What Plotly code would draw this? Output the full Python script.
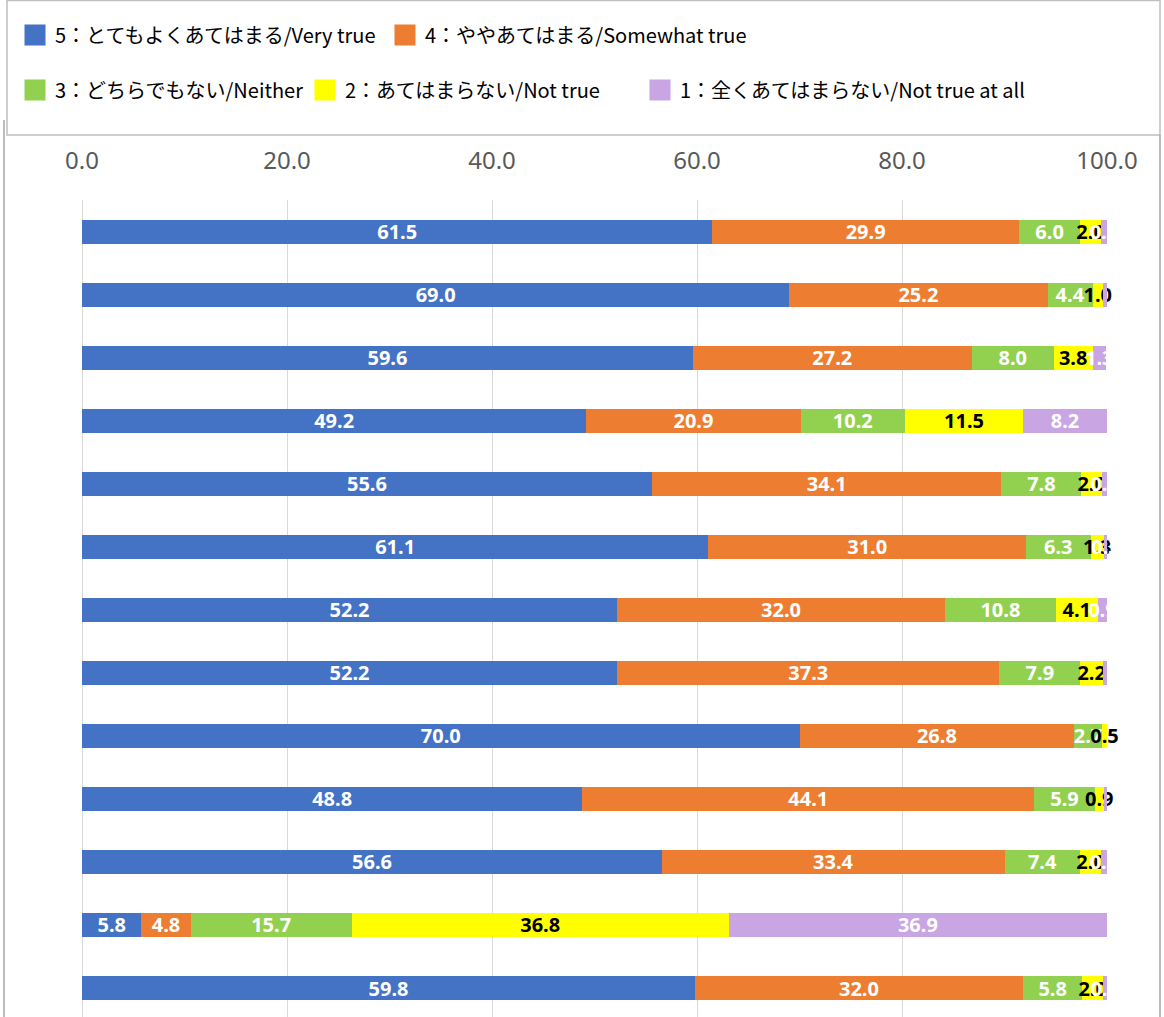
import plotly.graph_objects as go

rows = list(range(13))
very_true = [61.5, 69.0, 59.6, 49.2, 55.6, 61.1, 52.2, 52.2, 70.0, 48.8, 56.6, 5.8, 59.8]
somewhat_true = [29.9, 25.2, 27.2, 20.9, 34.1, 31.0, 32.0, 37.3, 26.8, 44.1, 33.4, 4.8, 32.0]
neither = [6.0, 4.4, 8.0, 10.2, 7.8, 6.3, 10.8, 7.9, 2.7, 5.9, 7.4, 15.7, 5.8]
not_true = [2.0, 1.0, 3.8, 11.5, 2.0, 1.3, 4.1, 2.2, 0.5, 0.9, 2.0, 36.8, 2.0]
not_true_at_all = [0.6, 0.4, 1.3, 8.2, 0.5, 0.3, 0.9, 0.4, 0.0, 0.3, 0.6, 36.9, 0.4]

names = ["5：とてもよくあてはまる/Very true", "4：ややあてはまる/Somewhat true",
         "3：どちらでもない/Neither", "2：あてはまらない/Not true",
         "1：全くあてはまらない/Not true at all"]
series = [very_true, somewhat_true, neither, not_true, not_true_at_all]
colors = ["#4472C4", "#ED7D31", "#92D050", "#FFFF00", "#C9A5E3"]
text_colors = ["white", "white", "white", "black", "white"]
tick_vals = [0, 20, 40, 60, 80, 100]
tick_text = ["0.0", "20.0", "40.0", "60.0", "80.0", "100.0"]

W, H = 1164, 1017
L, R, T, B = 82, 1107, 200, 1017

def px_x(p):
    return (p - L) / (R - L)

def px_y(p):
    return (B - p) / (B - T)

fig = go.Figure()
legend_ids = ["legend", "legend2", "legend3", "legend4", "legend5"]
for i, (nm, vals) in enumerate(zip(names, series)):
    fig.add_trace(go.Bar(
        y=rows, x=vals, orientation="h", name=nm,
        marker=dict(color=colors[i], line=dict(width=0)),
        width=0.38,
        text=[f"{v:.1f}" if v > 0 else "" for v in vals],
        textposition="inside", insidetextanchor="middle",
        textangle=0,
        textfont=dict(family="Noto Sans", size=20, color=text_colors[i], weight="bold"),
        cliponaxis=False,
        showlegend=False,
        hoverinfo="x+name",
    ))
# legend entries (square swatches)
for i, nm in enumerate(names):
    fig.add_trace(go.Scatter(
        x=[None], y=[None], mode="markers", name=nm,
        marker=dict(symbol="square", size=22, color=colors[i],
                    line=dict(width=5, color=colors[i])),
        legend=legend_ids[i], showlegend=True, hoverinfo="skip",
    ))

FONT = "Noto Sans CJK JP"
leg_pos = [(15, 35), (385, 35), (15, 90), (305, 90), (640, 90)]
layout_legends = {}
for lid, (lx, ly) in zip(legend_ids, leg_pos):
    layout_legends[lid] = dict(
        x=px_x(lx), y=px_y(ly), xanchor="left", yanchor="middle",
        orientation="h", bgcolor="rgba(0,0,0,0)",
        font=dict(family=FONT, size=20, color="#000000"),
        itemsizing="trace",
    )

fig.update_layout(
    width=W, height=H,
    margin=dict(l=L, r=W - R, t=T, b=H - B, pad=0),
    barmode="stack",
    plot_bgcolor="white", paper_bgcolor="white",
    showlegend=True,
    uniformtext=dict(minsize=20, mode="show"),
    font=dict(family=FONT),
    **layout_legends,
)
fig.update_xaxes(
    side="top", range=[0, 100], tickvals=tick_vals, ticktext=tick_text,
    showgrid=True, gridcolor="#D9D9D9", gridwidth=1,
    zeroline=True, zerolinecolor="#D9D9D9", zerolinewidth=1,
    showline=False, ticks="",
    tickfont=dict(family="Noto Sans", size=24, color="#595959"),
    ticklabelstandoff=25,
)
fig.update_yaxes(
    range=[12.46, -0.5], showticklabels=False, showgrid=False,
    zeroline=False, showline=False, ticks="",
)

# legend box and outer chart border
fig.add_shape(type="rect", xref="paper", yref="paper",
              x0=px_x(7), x1=px_x(1160), y0=px_y(135), y1=px_y(0.5),
              line=dict(color="#BFBFBF", width=1.5), fillcolor="rgba(0,0,0,0)", layer="above")
fig.add_shape(type="line", xref="paper", yref="paper",
              x0=px_x(4), x1=px_x(4), y0=px_y(120), y1=px_y(1017),
              line=dict(color="#A6A6A6", width=1.5))
fig.add_shape(type="line", xref="paper", yref="paper",
              x0=px_x(1160), x1=px_x(1160), y0=px_y(135), y1=px_y(1017),
              line=dict(color="#A6A6A6", width=1.5))

fig.write_html("out.html", config={"displayModeBar": False},
               post_script="document.body.style.margin='0px';document.body.style.overflow='hidden';")
